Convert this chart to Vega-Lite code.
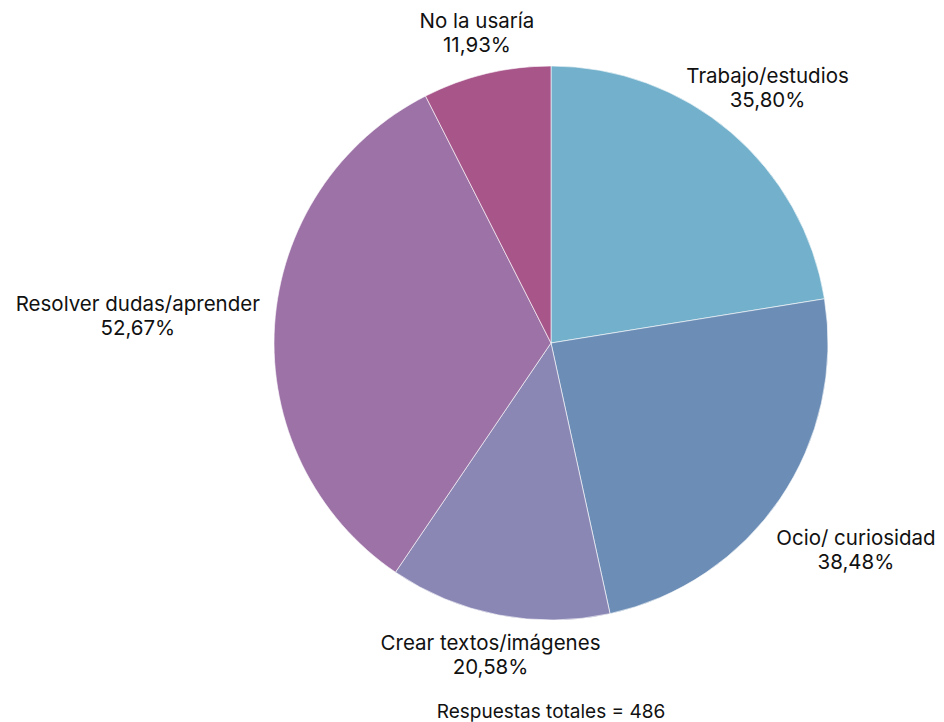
{
  "$schema": "https://vega.github.io/schema/vega-lite/v6.json",
  "width": 554,
  "height": 554,
  "autosize": {"type": "none"},
  "padding": {"left": 274, "top": 66, "right": 116, "bottom": 102},
  "background": "white",
  "config": {"view": {"stroke": null}, "font": "Inter"},
  "title": {
    "text": "Respuestas totales = 486",
    "orient": "bottom",
    "anchor": "middle",
    "offset": 24,
    "fontSize": 19,
    "fontWeight": "normal",
    "font": "Inter",
    "color": "#111111",
    "baseline": "top"
  },
  "data": {
    "values": [
      {"orden": 1, "cat": "Trabajo/estudios", "pct": 35.80},
      {"orden": 2, "cat": "Ocio/ curiosidad", "pct": 38.48},
      {"orden": 3, "cat": "Crear textos/imágenes", "pct": 20.58},
      {"orden": 4, "cat": "Resolver dudas/aprender", "pct": 52.67},
      {"orden": 5, "cat": "No la usaría", "pct": 11.93}
    ]
  },
  "transform": [
    {"calculate": "datum.cat + '\\n' + replace(format(datum.pct, '.2f'), '.', ',') + '%'", "as": "label"}
  ],
  "encoding": {
    "theta": {"field": "pct", "type": "quantitative", "stack": true},
    "order": {"field": "orden", "type": "quantitative"}
  },
  "layer": [
    {
      "mark": {"type": "arc", "outerRadius": 277, "stroke": "#ffffff", "strokeWidth": 0.6},
      "encoding": {
        "color": {
          "field": "cat",
          "type": "nominal",
          "sort": null,
          "legend": null,
          "scale": {
            "domain": ["Trabajo/estudios", "Ocio/ curiosidad", "Crear textos/imágenes", "Resolver dudas/aprender", "No la usaría"],
            "range": ["#72B0CB", "#6C8EB6", "#8A87B5", "#9D73A7", "#A8558A"]
          }
        }
      }
    },
    {
      "mark": {
        "type": "text",
        "radius": {"expr": "datum.cat === 'Trabajo/estudios' ? 334 : datum.cat === 'Ocio/ curiosidad' ? 369 : datum.cat === 'Crear textos/imágenes' ? 319 : datum.cat === 'Resolver dudas/aprender' ? 414 : 318"},
        "dy": -12,
        "fontSize": 20.5,
        "lineBreak": "\n",
        "lineHeight": 24,
        "align": "center",
        "baseline": "middle",
        "color": "#111111"
      },
      "encoding": {"text": {"field": "label"}}
    }
  ]
}
